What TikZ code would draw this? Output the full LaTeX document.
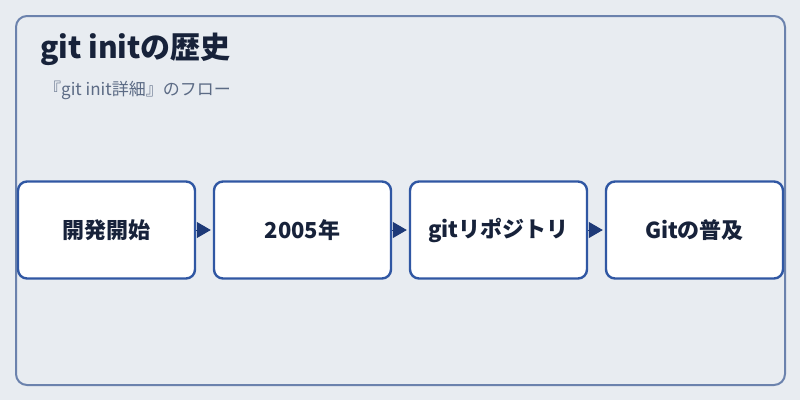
\documentclass[tikz,border=0pt]{standalone}
\usepackage{fontspec}
\setmainfont{Noto Sans CJK JP}
\usetikzlibrary{arrows.meta}
\definecolor{bgc}{HTML}{E8ECF1}
\definecolor{framec}{HTML}{6B82AD}
\definecolor{boxc}{HTML}{3057A3}
\definecolor{txtc}{HTML}{17223A}
\definecolor{subc}{HTML}{5C6B85}
\definecolor{arrc}{HTML}{1E3A78}
\begin{document}
\begin{tikzpicture}[x=1pt,y=-1pt,
  stepbox/.style={draw=boxc, line width=2.4pt, fill=white, rounded corners=9pt,
    minimum width=177pt, minimum height=97pt, inner sep=0pt,
    font=\fontsize{22}{26}\selectfont\bfseries, text=txtc},
  flow/.style={-{Triangle[length=14pt,width=16pt]}, arrc, line width=1pt, shorten >=2pt}]
\fill[bgc] (0,0) rectangle (800,400);
\useasboundingbox (0,0) rectangle (800,400);
\draw[framec, line width=2pt, rounded corners=11pt] (16,16) rectangle (785,385);
\node[anchor=base west, text=txtc, font=\fontsize{30}{34}\selectfont\bfseries, inner sep=0pt] (title) at (40,58) {git initの歴史};
\node[anchor=base west, text=subc, font=\fontsize{17}{20}\selectfont, inner sep=0pt] (sub) at (44,95) {『git init詳細』のフロー};
\node[stepbox] (s1) at (106.5,230) {開発開始};
\node[stepbox] (s2) at (302.5,230) {2005年};
\node[stepbox] (s3) at (498.5,230) {gitリポジトリ};
\node[stepbox] (s4) at (694.5,230) {Gitの普及};
\draw[flow] (s1) -- (s2);
\draw[flow] (s2) -- (s3);
\draw[flow] (s3) -- (s4);
\end{tikzpicture}
\end{document}
